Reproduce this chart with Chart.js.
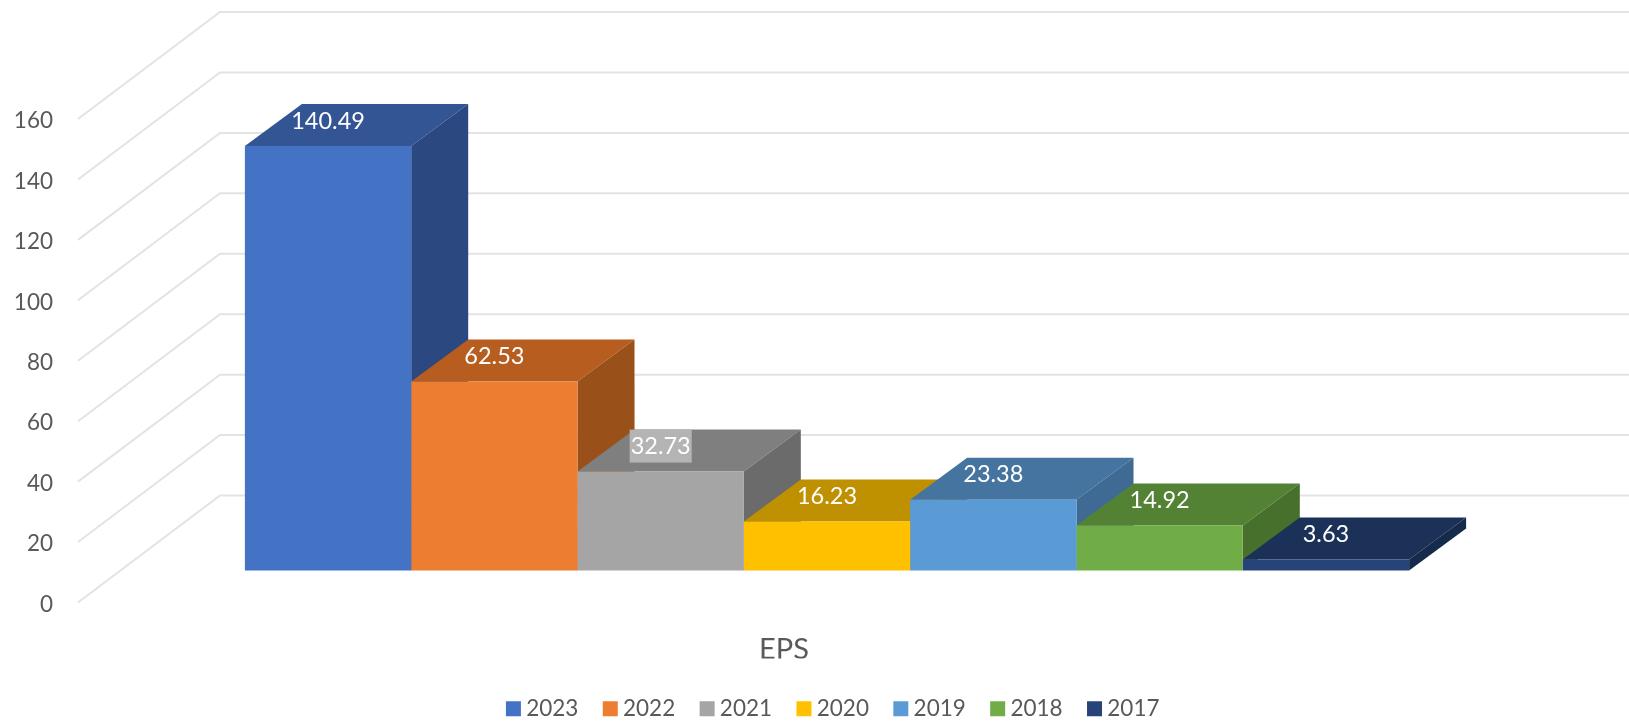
<!DOCTYPE html>
<html>
<head>
<meta charset="utf-8">
<title>EPS</title>
<script src="https://cdn.jsdelivr.net/npm/chart.js@4"></script>
<style>
  html, body { margin: 0; padding: 0; background: #fff; }
  canvas { display: block; }
</style>
</head>
<body>
<canvas id="epsChart" width="1629" height="721"></canvas>
<script>
const category = ["EPS"];
const years = ["2023", "2022", "2021", "2020", "2019", "2018", "2017"];
const eps = [140.49, 62.53, 32.73, 16.23, 23.38, 14.92, 3.63];
const yTicks = [0, 20, 40, 60, 80, 100, 120, 140, 160];

const frontColors = ["#4472C4", "#ED7D31", "#A5A5A5", "#FFC000", "#5B9BD5", "#70AD47", "#264478"];
const topColors = ["#335593", "#B65D1F", "#7F7F7F", "#BF9000", "#44749F", "#548235", "#1B3158"];
const sideColors = ["#2B4881", "#9A5019", "#6B6B6B", "#A17A00", "#3E6A93", "#47702D", "#162A4C"];
const labelBackgrounds = [null, null, "#B4B4B4", null, null, null, null];

const textColor = "#595959";
const gridColor = "#E3E3E3";
const fontFamily = "Lato, 'Open Sans', sans-serif";

// 3d look: the wall sits behind the axis plane, the bars stand between the two
const wallDepth = { x: 142, y: -107 };
const barOffset = { x: 43, y: -32 };
const barDepth = { x: 57, y: -42 };
const labelLift = 25;

function face(ctx, color, points) {
  ctx.fillStyle = color;
  ctx.beginPath();
  points.forEach((p, i) => (i ? ctx.lineTo(p[0], p[1]) : ctx.moveTo(p[0], p[1])));
  ctx.closePath();
  ctx.fill();
}

const perspective = {
  id: "perspective",
  beforeDatasetsDraw(chart) {
    const ctx = chart.ctx;
    const area = chart.chartArea;
    const yScale = chart.scales.y;

    ctx.save();
    ctx.strokeStyle = gridColor;
    ctx.lineWidth = 2;
    yTicks.forEach((tick) => {
      const y = yScale.getPixelForValue(tick);
      ctx.beginPath();
      ctx.moveTo(area.left, y);
      ctx.lineTo(area.left + wallDepth.x, y + wallDepth.y);
      ctx.lineTo(chart.width, y + wallDepth.y);
      ctx.stroke();
    });
    ctx.restore();

    // left to right so each bar's top hides the side of its neighbour
    ctx.save();
    ctx.translate(barOffset.x, barOffset.y);
    years.forEach((year, i) => {
      const bar = chart.getDatasetMeta(i).data[0];
      const left = bar.x - bar.width / 2;
      const right = bar.x + bar.width / 2;
      face(ctx, topColors[i], [
        [left, bar.y],
        [right, bar.y],
        [right + barDepth.x, bar.y + barDepth.y],
        [left + barDepth.x, bar.y + barDepth.y]
      ]);
      face(ctx, sideColors[i], [
        [right, bar.y],
        [right + barDepth.x, bar.y + barDepth.y],
        [right + barDepth.x, bar.base + barDepth.y],
        [right, bar.base]
      ]);
    });
  },
  afterDatasetsDraw(chart) {
    const ctx = chart.ctx;
    ctx.font = "23.5px " + fontFamily;
    ctx.textAlign = "center";
    ctx.textBaseline = "middle";
    years.forEach((year, i) => {
      const bar = chart.getDatasetMeta(i).data[0];
      const y = bar.y - labelLift;
      const text = String(eps[i]);
      if (labelBackgrounds[i]) {
        const w = ctx.measureText(text).width + 2;
        ctx.fillStyle = labelBackgrounds[i];
        ctx.fillRect(bar.x - w / 2, y - 17, w, 33);
      }
      ctx.fillStyle = "#fff";
      ctx.fillText(text, bar.x, y);
    });
    ctx.restore();
  },
  afterLayout(chart) {
    // legend is centred under the bars, not under the canvas
    const legend = chart.legend;
    legend.left += 90.7;
    legend.right += 90.7;
    legend.top += 8.6;
    legend.bottom += 8.6;
  }
};

new Chart(document.getElementById("epsChart"), {
  type: "bar",
  data: {
    labels: category,
    datasets: years.map((year, i) => ({
      label: year,
      data: [eps[i]],
      backgroundColor: frontColors[i],
      borderWidth: 0,
      clip: false,
      categoryPercentage: 0.8245,
      barPercentage: 1
    }))
  },
  options: {
    responsive: false,
    animation: false,
    layout: { padding: { top: 119, right: 139, left: 0, bottom: -0.4 } },
    plugins: {
      title: { display: false },
      tooltip: { enabled: false },
      legend: {
        position: "bottom",
        labels: {
          // tiny box with a thick border keeps the text close to the marker
          boxWidth: 3,
          boxHeight: 3,
          padding: 30.4,
          color: textColor,
          font: { family: fontFamily, size: 22.5 },
          generateLabels(chart) {
            return Chart.defaults.plugins.legend.labels.generateLabels(chart).map((item) => ({
              ...item,
              lineWidth: 12,
              strokeStyle: item.fillStyle
            }));
          }
        }
      }
    },
    scales: {
      x: {
        grid: { display: false, drawTicks: false },
        border: { display: false },
        afterFit(scale) { scale.height = 56; },
        ticks: {
          padding: 30,
          color: textColor,
          font: { family: fontFamily, size: 29 }
        }
      },
      y: {
        min: 0,
        max: 160,
        grid: { display: false, drawTicks: false },
        border: { display: false },
        afterFit(scale) { scale.width = 78; },
        ticks: {
          stepSize: 20,
          padding: 25,
          labelOffset: 2,
          color: textColor,
          font: { family: fontFamily, size: 22.5 }
        }
      }
    }
  },
  plugins: [perspective]
});
</script>
</body>
</html>
